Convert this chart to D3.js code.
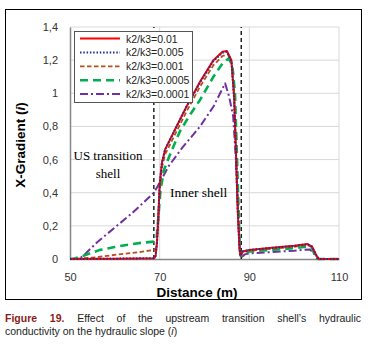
<!DOCTYPE html>
<html>
<head>
<meta charset="utf-8">
<script src="https://cdn.jsdelivr.net/npm/d3@7"></script>
<style>
  body { margin: 0; background: #fff; }
  #wrap { position: relative; width: 372px; height: 349px; }
  .cap { position: absolute; left: 5px; width: 356px; font: 10.5px "Liberation Sans", Arial, sans-serif; color: #222; }
  .cap b { color: #8a1c1c; }
</style>
</head>
<body>
<div id="wrap">
  <span id="chart"></span>
  <div class="cap" style="top:312px; text-align:justify; text-align-last:justify;"><b>Figure 19.</b> Effect of the upstream transition shell’s hydraulic</div>
  <div class="cap" style="top:325px;">conductivity on the hydraulic slope (<i>i</i>)</div>
</div>
<script>
// hydraulic gradient along the dam section for several k2/k3 ratios

var seriesNames = ["k2/k3=0.01", "k2/k3=0.005", "k2/k3=0.001", "k2/k3=0.0005", "k2/k3=0.0001"];

var xTicks = [50, 70, 90, 110];
var yTicks = [0, 0.2, 0.4, 0.6, 0.8, 1, 1.2, 1.4];
var zoneBounds = [68.7, 88.2];

// distance (m) / gradient pairs
var k001 = [[50,0],[60,0.002],[68.8,0.005],[69.1,0.02],[69.4,0.1],[69.7,0.25],[70,0.45],[70.5,0.58],[71.2,0.66],[73.4,0.78],[76,0.92],[79,1.07],[82,1.2],[84,1.25],[85,1.255],[86,1.2],[86.6,0.98],[87,0.66],[87.4,0.3],[87.8,0.07],[88,0.02],[88.5,0.045],[90,0.055],[95,0.068],[100,0.08],[103,0.09],[104,0.075],[105,0.02],[105.5,0],[110,0]];
var k0005 = [[50,0],[60,0.002],[68.8,0.005],[69.1,0.02],[69.4,0.1],[69.7,0.25],[70,0.45],[70.5,0.58],[71.2,0.66],[73.4,0.78],[76,0.92],[79,1.065],[82,1.195],[84,1.245],[85,1.25],[86,1.195],[86.6,0.97],[87,0.65],[87.4,0.3],[87.8,0.07],[88,0.02],[88.5,0.045],[90,0.055],[95,0.067],[100,0.079],[103,0.089],[104,0.074],[105,0.02],[105.5,0],[110,0]];
var k0001 = [[50,0],[55,0.008],[60,0.025],[65,0.04],[68.8,0.055],[69.3,0.07],[69.6,0.2],[70,0.42],[70.5,0.55],[71.2,0.63],[73.4,0.75],[76,0.89],[79,1.04],[82,1.17],[84,1.225],[85.2,1.235],[86,1.19],[86.6,1.0],[87,0.7],[87.4,0.32],[87.8,0.07],[88,0.02],[88.5,0.04],[90,0.05],[95,0.062],[100,0.074],[103,0.084],[104,0.07],[105,0.015],[105.5,0],[110,0]];
var k00005 = [[50,0],[51,0.003],[53,0.02],[56.7,0.055],[60,0.072],[62.6,0.085],[66,0.098],[68.8,0.105],[69.3,0.12],[69.7,0.25],[70.2,0.42],[71,0.54],[72,0.61],[74.5,0.77],[77,0.88],[79,0.96],[82,1.1],[84,1.18],[85.4,1.21],[86.2,1.17],[86.8,1.0],[87.2,0.65],[87.6,0.3],[87.9,0.05],[88.2,0.02],[88.8,0.035],[90,0.045],[95,0.055],[100,0.065],[103,0.075],[104,0.065],[104.8,0.01],[105.3,0],[110,0]];
var k00001 = [[50,0],[52,0],[53,0.02],[56,0.1],[60,0.19],[64,0.28],[68.7,0.4],[70,0.46],[72,0.56],[75,0.67],[79,0.8],[82,0.92],[84.6,1.06],[85.5,0.98],[86.4,0.86],[87,0.6],[87.5,0.3],[87.9,0.05],[88.2,0.01],[89,0.028],[90,0.034],[95,0.042],[100,0.05],[103.5,0.058],[104.5,0.03],[105.2,0],[110,0]];

var allSeries = [k001, k0005, k0001, k00005, k00001];
var colors = ["#ff0000", "#1f2f8f", "#b5501c", "#00b050", "#7030a0"];
var dashes = [null, "1.5,1.8", "4.5,2.5", "8,5", "8,3,2,3"];
var widths = [2, 2, 1.8, 2.6, 2];

var W = 372;

var svg = d3.select("#chart").append("svg")
    .attr("width", W)
    .attr("height", 305)
    .style("display", "block");

// outer frame
svg.append("rect")
    .attr("x", 5.5).attr("y", 9.5)
    .attr("width", 356).attr("height", 290)
    .attr("fill", "none").attr("stroke", "#000").attr("stroke-width", 1);

var xScale = d3.scaleLinear().domain([50, 110]).range([70, 339]);
var yScale = d3.scaleLinear().domain([0, 1.4]).range([259, 27]);

// grid
svg.append("g")
    .selectAll("line")
    .data(yTicks.slice(1))
    .join("line")
    .attr("x1", xScale(50)).attr("x2", xScale(110))
    .attr("y1", d => yScale(d)).attr("y2", d => yScale(d))
    .attr("stroke", "#d9d9d9").attr("stroke-width", 1);
svg.append("g")
    .selectAll("line")
    .data(xTicks.slice(1))
    .join("line")
    .attr("x1", d => xScale(d)).attr("x2", d => xScale(d))
    .attr("y1", yScale(0)).attr("y2", yScale(1.4))
    .attr("stroke", "#d9d9d9").attr("stroke-width", 1);

// axes
function xAxis(g) {
    g.call(d3.axisBottom(xScale).tickValues(xTicks).tickSize(0).tickPadding(14))
    g.select(".domain").attr("stroke", "#868686").attr("stroke-width", 1.5);
    g.selectAll("text").attr("font-family", "Liberation Sans, Arial, sans-serif").attr("font-size", 11).attr("fill", "#333");
}
function yAxis(g) {
    g.call(d3.axisLeft(yScale).tickValues(yTicks).tickSize(0).tickPadding(12)
        .tickFormat(d => String(d).replace(".", ",")))
    g.select(".domain").attr("stroke", "#868686").attr("stroke-width", 1.5);
    g.selectAll("text").attr("font-family", "Liberation Sans, Arial, sans-serif").attr("font-size", 11).attr("fill", "#333");
}

svg.append("g")
    .attr("transform", `translate(0, ${yScale(0)})`)
    .call(xAxis);
svg.append("g")
    .attr("transform", `translate(${xScale(50)}, 0)`)
    .call(yAxis);

// zone boundaries
svg.append("g")
    .selectAll("line")
    .data(zoneBounds)
    .join("line")
    .attr("x1", d => xScale(d)).attr("x2", d => xScale(d))
    .attr("y1", yScale(0)).attr("y2", yScale(1.4))
    .attr("stroke", "#222").attr("stroke-width", 1.5)
    .attr("stroke-dasharray", "4,3");

// curves
var line = d3.line().x(d => xScale(d[0])).y(d => yScale(d[1]));
var order = [4, 3, 2, 0, 1];
order.forEach(function(i) {
    svg.append("path")
        .datum(allSeries[i])
        .attr("d", line)
        .attr("fill", "none")
        .attr("stroke", colors[i])
        .attr("stroke-width", widths[i])
        .attr("stroke-dasharray", dashes[i])
        .attr("stroke-linejoin", "round");
});

// zone labels
var serif = "Liberation Serif, Times New Roman, serif";
svg.append("text").attr("x", 108).attr("y", 160).attr("text-anchor", "middle")
    .attr("font-family", serif).attr("font-size", 13).text("US transition");
svg.append("text").attr("x", 108).attr("y", 178).attr("text-anchor", "middle")
    .attr("font-family", serif).attr("font-size", 13).text("shell");
svg.append("text").attr("x", 170).attr("y", 197)
    .attr("font-family", serif).attr("font-size", 13.5).text("Inner shell");

// legend
var lg = svg.append("g");
lg.append("rect")
    .attr("x", 74.5).attr("y", 31.5).attr("width", 118).attr("height", 71)
    .attr("fill", "#fff").attr("stroke", "#555").attr("stroke-width", 1);
seriesNames.forEach(function(name, i) {
    var y = 38.5 + i * 13.9;
    lg.append("line")
        .attr("x1", 80).attr("x2", 120).attr("y1", y).attr("y2", y)
        .attr("stroke", colors[i]).attr("stroke-width", widths[i])
        .attr("stroke-dasharray", dashes[i]);
    lg.append("text")
        .attr("x", 126).attr("y", y + 4)
        .attr("font-family", "Liberation Sans, Arial, sans-serif")
        .attr("font-size", 10.5).attr("fill", "#222")
        .text(name);
});

// axis titles
svg.append("text")
    .attr("x", 197).attr("y", 297).attr("text-anchor", "middle")
    .attr("font-family", "Liberation Sans, Arial, sans-serif")
    .attr("font-size", 13.5).attr("font-weight", "bold")
    .text("Distance (m)");
var yt = svg.append("text")
    .attr("transform", "translate(25, 145) rotate(-90)")
    .attr("text-anchor", "middle")
    .attr("font-family", "Liberation Sans, Arial, sans-serif")
    .attr("font-size", 13.5).attr("font-weight", "bold");
yt.append("tspan").text("X-Gradient (");
yt.append("tspan").attr("font-style", "italic").text("i");
yt.append("tspan").text(")");
</script>
</body>
</html>
